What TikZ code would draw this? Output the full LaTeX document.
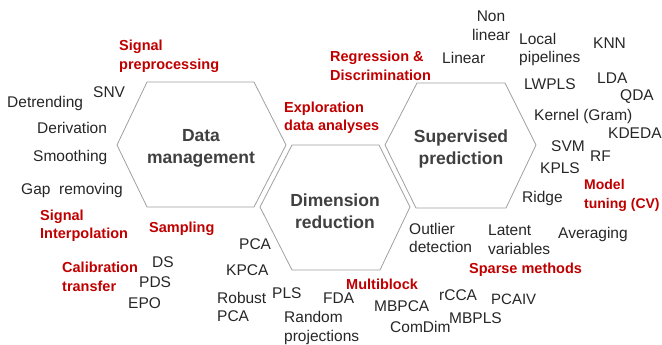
\documentclass[tikz,border=0pt]{standalone}
\usepackage{fontspec}
\setmainfont{Liberation Sans}
\definecolor{hexgray}{HTML}{A0A0A0}
\definecolor{txt}{HTML}{262626}
\definecolor{catred}{HTML}{C00000}
\definecolor{ttl}{HTML}{404040}
\begin{document}
\begin{tikzpicture}[x=1pt,y=-1pt,
  hex/.style={draw=hexgray, line width=0.8pt, fill=white},
  lbl/.style={inner sep=0pt, anchor=west, yshift=-2pt, text=txt, font=\fontsize{15.5}{18.5}\selectfont, text height=11pt, text depth=3pt},
  mlbl/.style={inner sep=0pt, anchor=west, yshift=-2pt, text=txt, align=left, font=\fontsize{15.5}{18.5}\selectfont},
  cat/.style={inner sep=0pt, anchor=west, yshift=-2pt, text=catred, align=left, font=\fontsize{14.5}{18.5}\selectfont\bfseries},
  title/.style={inner sep=0pt, yshift=-2pt, text=ttl, align=center, font=\fontsize{17.5}{22}\selectfont\bfseries}]
\useasboundingbox (0,0) rectangle (662,345);
% hexagons
\draw[hex] (117,145) -- (147,82) -- (254,82) -- (286,145) -- (254,207) -- (147,207) -- cycle;
\draw[hex] (385,145) -- (417,83) -- (505,83) -- (536,145) -- (506,208) -- (416,208) -- cycle;
\draw[hex] (260,207) -- (292,145) -- (379,145) -- (410,207) -- (380,270) -- (292,270) -- cycle;
% titles
\node[title] (tdata) at (201,146) {Data\\management};
\node[title] (tsup) at (461,147) {Supervised\\prediction};
\node[title] (tdim) at (335,209) {Dimension\\reduction};
% red categories
\node[cat] (sigpre) at (119,54.5) {Signal\\preprocessing};
\node[cat] (sigint) at (40,224) {Signal\\Interpolation};
\node[cat] (sampling) at (149,227) {Sampling};
\node[cat] (calib) at (62,275) {Calibration\\transfer};
\node[cat] (explo) at (284,116) {Exploration\\data analyses};
\node[cat] (regr) at (330,64) {Regression \&\\Discrimination};
\node[cat, font=\fontsize{14}{18.5}\selectfont\bfseries] (model) at (584,193.5) {Model\\tuning (CV)};
\node[cat] (sparse) at (469,268) {Sparse methods};
\node[cat] (multi) at (346,282) {Multiblock};
% left side
\node[lbl] (snv) at (93,92) {SNV};
\node[lbl] (detr) at (7,102) {Detrending};
\node[lbl] (deriv) at (37,128) {Derivation};
\node[lbl] (smooth) at (33,155) {Smoothing};
\node[lbl] (gap) at (21,188) {Gap\ \ removing};
\node[lbl] (ds) at (152,261) {DS};
\node[lbl] (pds) at (139,281) {PDS};
\node[lbl] (epo) at (128,302) {EPO};
% top right
\node[mlbl, anchor=center, align=center] (nonlin) at (491,23.5) {Non\\linear};
\node[lbl] (linear) at (442,58) {Linear};
\node[mlbl] (local) at (519,47.5) {Local\\pipelines};
\node[lbl] (knn) at (593,43) {KNN};
\node[lbl] (lwpls) at (524,83) {LWPLS};
\node[lbl] (lda) at (597,78) {LDA};
\node[lbl] (qda) at (620,95) {QDA};
\node[lbl] (kernel) at (534,115) {Kernel (Gram)};
\node[lbl] (kdeda) at (608,133) {KDEDA};
\node[lbl] (svm) at (551,145) {SVM};
\node[lbl] (rf) at (590,155) {RF};
\node[lbl] (kpls) at (540,167) {KPLS};
\node[lbl] (ridge) at (522,196) {Ridge};
% bottom right
\node[mlbl] (outlier) at (409,236) {Outlier\\detection};
\node[mlbl] (latent) at (488,237.5) {Latent\\variables};
\node[lbl] (avg) at (558,232) {Averaging};
\node[lbl] (rcca) at (439,294) {rCCA};
\node[lbl, font=\fontsize{15}{16}\selectfont] (pcaiv) at (491,298) {PCAIV};
\node[lbl] (mbpca) at (374,305) {MBPCA};
\node[lbl] (mbpls) at (449,317) {MBPLS};
\node[lbl] (comdim) at (390,326) {ComDim};
% bottom middle
\node[lbl] (pca) at (239,243) {PCA};
\node[lbl] (kpca) at (226,269) {KPCA};
\node[mlbl] (robust) at (217,305) {Robust\\PCA};
\node[lbl] (pls) at (272,292) {PLS};
\node[lbl] (fda) at (323,297) {FDA};
\node[mlbl] (random) at (284,326) {Random\\projections};
\end{tikzpicture}
\end{document}
